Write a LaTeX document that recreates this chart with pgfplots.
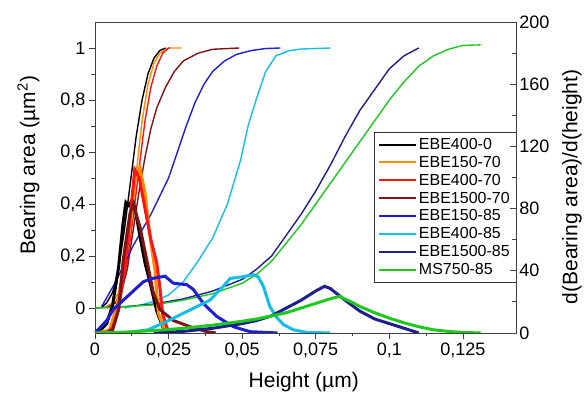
\documentclass[border=0pt]{standalone}
\usepackage{pgfplots}
\pgfplotsset{compat=1.18}
\usepackage{fontspec}
\setmainfont{Liberation Sans}
\definecolor{cOrange}{RGB}{255,140,0}
\definecolor{cRed}{RGB}{250,20,20}
\definecolor{cDarkRed}{RGB}{128,20,20}
\definecolor{cBlue}{RGB}{30,30,210}
\definecolor{cCyan}{RGB}{20,190,230}
\definecolor{cNavy}{RGB}{30,30,140}
\definecolor{cGreen}{RGB}{30,200,30}
\begin{document}
\begin{tikzpicture}
\pgfplotsset{
  base/.style={
    scale only axis, width=421pt, height=311pt,
    xmin=0, xmax=0.143,
    axis line style={black!75, line width=0.8pt},
    major tick style={black!75, line width=0.8pt},
    minor tick style={black!75, line width=0.8pt},
    major tick length=6pt, minor tick length=3.5pt,
    tick label style={font=\fontsize{18}{21}\selectfont, /pgf/number format/assume math mode=true},
    label style={font=\fontsize{21}{24}\selectfont},
  },
  ba/.style={line width=1.4pt},
  dba/.style={line width=3pt},
}
\begin{axis}[base, name=ax,
  ymin=-0.096, ymax=1.1,
  xtick pos=left, ytick pos=left, tick align=outside,
  xtick={0,0.025,0.05,0.075,0.1,0.125},
  xticklabels={0,{0,025},{0,05},{0,075},{0,1},{0,125}},
  ytick={0,0.2,0.4,0.6,0.8,1},
  yticklabels={0,{0,2},{0,4},{0,6},{0,8},1},
  minor x tick num=1, minor y tick num=1,
  xlabel={Height (\textmu m)},
  ylabel={Bearing area (\textmu m\textsuperscript{2})},
  xlabel style={at={(axis description cs:0.496,-0.157)}, anchor=center},
  ylabel style={at={(axis description cs:-0.158,0.54)}, anchor=center},
  legend cell align=left,
  legend image code/.code={\draw[#1, line width=2pt] (0pt,0pt) -- (37pt,0pt);},
  legend style={at={(1,0.646)}, anchor=north east, draw=black!80,
    font=\fontsize{16}{18}\selectfont, row sep=1.2pt, inner sep=4pt},
]
\addplot[ba, black] coordinates {(0.002,0) (0.004,0.02) (0.006,0.06) (0.008,0.15) (0.010,0.3) (0.012,0.48) (0.014,0.66) (0.016,0.8) (0.018,0.9) (0.020,0.96) (0.022,0.99) (0.024,1.0)};
\addlegendentry{EBE400-0}
\addplot[ba, cOrange] coordinates {(0.003,0) (0.006,0.02) (0.008,0.06) (0.010,0.15) (0.012,0.32) (0.014,0.52) (0.016,0.72) (0.018,0.86) (0.020,0.94) (0.022,0.98) (0.025,1.0) (0.0295,1.0)};
\addlegendentry{EBE150-70}
\addplot[ba, cRed] coordinates {(0.004,0) (0.007,0.02) (0.009,0.07) (0.011,0.18) (0.013,0.35) (0.015,0.54) (0.017,0.72) (0.019,0.85) (0.021,0.93) (0.023,0.98) (0.025,1.0) (0.0255,1.0)};
\addlegendentry{EBE400-70}
\addplot[ba, cDarkRed] coordinates {(0.004,0) (0.007,0.02) (0.009,0.06) (0.011,0.15) (0.013,0.3) (0.015,0.45) (0.017,0.58) (0.019,0.69) (0.021,0.77) (0.024,0.85) (0.027,0.91) (0.030,0.95) (0.035,0.98) (0.040,0.995) (0.049,1.0)};
\addlegendentry{EBE1500-70}
\addplot[ba, cBlue] coordinates {(0.002,0) (0.004,0.04) (0.007,0.1) (0.010,0.17) (0.013,0.24) (0.016,0.3) (0.019,0.36) (0.022,0.43) (0.025,0.5) (0.028,0.6) (0.031,0.7) (0.034,0.79) (0.037,0.86) (0.040,0.91) (0.044,0.95) (0.048,0.975) (0.053,0.99) (0.058,0.998) (0.063,1.0)};
\addlegendentry{EBE150-85}
\addplot[ba, cCyan] coordinates {(0.010,0) (0.015,0.01) (0.020,0.025) (0.025,0.05) (0.030,0.1) (0.035,0.18) (0.040,0.27) (0.045,0.4) (0.0495,0.57) (0.052,0.7) (0.055,0.81) (0.058,0.91) (0.0615,0.97) (0.066,0.99) (0.070,0.996) (0.080,1.0)};
\addlegendentry{EBE400-85}
\addplot[ba, cNavy] coordinates {(0,0) (0.01,0.005) (0.02,0.015) (0.03,0.035) (0.04,0.065) (0.05,0.11) (0.055,0.15) (0.06,0.2) (0.065,0.28) (0.07,0.36) (0.075,0.45) (0.08,0.55) (0.085,0.66) (0.09,0.76) (0.095,0.84) (0.1,0.92) (0.105,0.97) (0.11,1.0)};
\addlegendentry{EBE1500-85}
\addplot[ba, cGreen] coordinates {(0,0) (0.01,0.005) (0.02,0.012) (0.03,0.03) (0.04,0.055) (0.05,0.095) (0.055,0.13) (0.06,0.18) (0.065,0.25) (0.07,0.32) (0.075,0.4) (0.08,0.48) (0.085,0.56) (0.09,0.64) (0.095,0.72) (0.1,0.8) (0.105,0.87) (0.11,0.93) (0.115,0.97) (0.12,0.995) (0.125,1.01) (0.131,1.012)};
\addlegendentry{MS750-85}
\end{axis}
\begin{axis}[base,
  ymin=0, ymax=200,
  axis y line*=right, axis x line=none, tick align=inside,
  ytick={0,40,80,120,160,200}, minor y tick num=1,
  ylabel={d(Bearing area)/d(height)},
  ylabel style={at={(axis description cs:1.133,0.47)}, anchor=center, rotate=0},
]
\addplot[dba, black] coordinates {(0,0) (0.002,2) (0.004,6) (0.006,18) (0.008,42) (0.0095,70) (0.0105,84) (0.0115,82) (0.0128,86) (0.014,76) (0.0155,60) (0.017,45) (0.019,30) (0.021,14) (0.023,4) (0.025,0.5) (0.027,0)};
\addplot[dba, cOrange] coordinates {(0.001,0) (0.005,2) (0.0074,17) (0.0096,40) (0.0119,68) (0.0136,98) (0.0153,106) (0.017,90) (0.0187,62) (0.0204,40) (0.0215,13) (0.0232,4) (0.0249,0.8) (0.027,0)};
\addplot[dba, cRed] coordinates {(0.004,0) (0.006,3) (0.008,15) (0.010,40) (0.012,75) (0.0135,105) (0.015,100) (0.017,80) (0.019,60) (0.021,45) (0.022,30) (0.023,12) (0.0245,3) (0.026,0)};
\addplot[dba, cDarkRed] coordinates {(0.004,0) (0.006,2) (0.008,15) (0.0096,47) (0.0119,77) (0.013,83) (0.0153,68) (0.0176,47) (0.0198,26) (0.0221,15) (0.0266,8) (0.0323,4) (0.038,0.8) (0.041,0)};
\addplot[dba, cBlue] coordinates {(0,0) (0.004,8) (0.0062,15) (0.0096,21) (0.0136,28) (0.0165,33) (0.0194,35) (0.0238,36.5) (0.0266,32) (0.0312,31) (0.0334,28) (0.0368,19) (0.0413,10.7) (0.047,4) (0.0527,0.8) (0.062,0)};
\addplot[dba, cCyan] coordinates {(0.010,0) (0.018,2) (0.0243,7.3) (0.0323,14.8) (0.039,21) (0.0436,30) (0.0459,35) (0.0504,36.2) (0.0537,37.5) (0.0555,36) (0.0572,30) (0.0594,17) (0.0617,10) (0.064,5.4) (0.0674,2) (0.072,0.3) (0.080,0)};
\addplot[dba, cNavy] coordinates {(0.02,0) (0.03,1) (0.04,3) (0.05,6) (0.055,8) (0.06,11) (0.065,16) (0.07,21) (0.075,27) (0.078,30) (0.08,28.5) (0.085,21) (0.09,14) (0.095,9) (0.1,6) (0.105,3) (0.11,0)};
\addplot[dba, cGreen] coordinates {(0,0) (0.01,0.5) (0.02,1.5) (0.03,3) (0.04,5) (0.05,7.5) (0.055,9) (0.06,11) (0.065,13) (0.07,16) (0.075,19) (0.08,22) (0.083,23.5) (0.087,20) (0.09,17) (0.095,13) (0.1,9.5) (0.105,6.5) (0.11,4) (0.115,2) (0.12,1) (0.125,0.3) (0.131,0)};
\end{axis}
\path ([shift={(-95pt,-68pt)}]ax.south west) rectangle ++(585pt,401pt);
\end{tikzpicture}
\end{document}
